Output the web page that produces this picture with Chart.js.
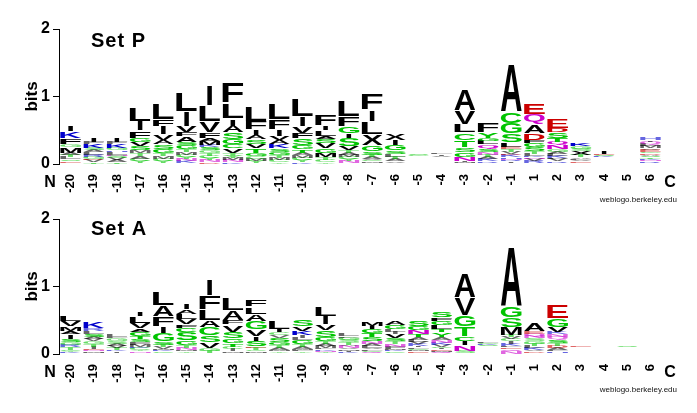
<!DOCTYPE html>
<html>
<head>
<meta charset="utf-8">
<script src="https://cdn.jsdelivr.net/npm/chart.js@4.4.0/dist/chart.umd.min.js"></script>
<style>
  html, body { margin: 0; padding: 0; background: #fff; }
  #wrap { position: relative; width: 697px; height: 413px; }
  .panel { position: absolute; left: 0; width: 697px; }
  #panelP { top: 0; height: 206px; }
  #panelA { top: 206px; height: 207px; }
</style>
</head>
<body>
<div id="wrap">
  <div class="panel" id="panelP"><canvas id="logoP"></canvas></div>
  <div class="panel" id="panelA"><canvas id="logoA"></canvas></div>
</div>
<script>
// sequence positions along the x axis
const positions = ['-20', '-19', '-18', '-17', '-16', '-15', '-14', '-13', '-12', '-11', '-10',
  '-9', '-8', '-7', '-6', '-5', '-4', '-3', '-2', '-1', '1', '2', '3', '4', '5', '6'];
const bitTicks = [0, 1, 2];

// Set P: letters per position, listed top of stack first, with their heights in bits
const setPLetters = ['IKFGMATLSEV', 'IFKSALRGDVT', 'IFKGHLNSVAT', 'LIFGVSMTACYN', 'LFIVASGTMCYK',
  'LIVFASGTMCYNKE', 'ILVFAMKSGTCYND', 'FLIASGCVTYMNK', 'LFIASVTGCMYK', 'LFIVAKSGTMCY',
  'LIVFSGTAMCYK', 'FILASVGMTCY', 'LFGISVTAMCYNK', 'FILXGSTAVCMY', 'XIGSLTAVM',
  'SGATVLEKNDIRQP', 'LIVAGSTEKNDRQP', 'AVLCTSGNIMF', 'FYGLQSNTAKRE', 'ACGSLETVDKHNRIM',
  'EQADFGSTLKNVRP', 'EDSTQNGALKFVRP', 'KGSXTALVEN', 'IESKAGTVLNDRQP', '', 'HIQLMVEGDASTKNRP'];
const setPBits = [
  [.08, .11, .09, .04, .08, .035, .03, .035, .025, .025, .02],
  [.07, .03, .06, .03, .03, .04, .03, .03, .02, .03, .03],
  [.06, .03, .06, .03, .02, .04, .02, .03, .03, .03, .03],
  [.2, .14, .11, .06, .07, .06, .04, .04, .04, .03, .03, .02],
  [.25, .11, .12, .08, .07, .07, .06, .04, .04, .03, .03, .02],
  [.28, .22, .1, .06, .08, .05, .06, .04, .04, .03, .03, .03, .03, .02],
  [.32, .24, .17, .08, .05, .06, .03, .05, .04, .04, .03, .03, .03, .03],
  [.31, .23, .11, .1, .1, .08, .06, .07, .04, .03, .03, .03, .03],
  [.22, .12, .09, .06, .07, .07, .06, .05, .04, .03, .03, .02],
  [.24, .14, .1, .07, .06, .06, .05, .05, .04, .03, .03, .03],
  [.26, .14, .11, .08, .1, .06, .05, .04, .04, .03, .03, .03],
  [.16, .07, .08, .05, .06, .08, .07, .06, .04, .03, .03],
  [.25, .15, .1, .07, .12, .06, .04, .03, .03, .03, .03, .03, .02],
  [.26, .17, .19, .17, .09, .05, .03, .03, .02, .02, .02, .02],
  [.1, .08, .08, .05, .04, .04, .03, .02, .02],
  [.025, .02, .01, .01, .01, .01, .01, .01, .01, .01, .01, .01, .01, .01],
  [.02, .02, .015, .01, .01, .01, .01, .01, .01, .01, .01, .01, .01, .01],
  [.335, .2, .13, .115, .11, .07, .07, .055, .02, .015, .015],
  [.15, .08, .05, .05, .06, .05, .04, .04, .03, .03, .02, .02],
  [.76, .17, .16, .13, .07, .03, .04, .03, .02, .03, .02, .02, .02, .02, .02],
  [.16, .15, .13, .1, .05, .06, .06, .04, .03, .02, .02, .03, .03, .02],
  [.15, .06, .09, .06, .05, .06, .04, .03, .03, .03, .02, .03, .02, .02],
  [.05, .04, .03, .06, .03, .02, .02, .02, .02, .02],
  [.05, .02, .02, .015, .01, .01, .01, .01, .01, .01, .01, .01, .01, .01],
  [],
  [.04, .02, .04, .03, .03, .02, .03, .02, .02, .02, .02, .02, .02, .02, .02, .02]
];

// Set A: same layout
const setALetters = ['LVMAISGRTCYKE', 'KRLSAVGTIENMD', 'LFGSAVTKIE', 'ILVAGTSFMKCYNE', 'LAFIGSTVMKCY',
  'IALVFCSGTNMYK', 'IFLACSVGTM', 'LAFVSGTCIMY', 'FLAGVISETCMK', 'LICVSGTAMYK',
  'SVKILGTAMFYE', 'LIVSGTAMFKNYE', 'LFGSTANVMIKE', 'MIGTSNALVFCQY', 'AGLIVSTNFMKCE',
  'SGNTALVKIFCMED', 'SFGLTYANKVCIEMQ', 'AVGTCINSL', 'LGKSATVEINDRQPFM', 'AGSMTVCIKLEDQN',
  'AEQNSGTLKVDR', 'EGVKNQSTDALHR', 'EADGSTKNRQPV', '', 'SADGETKNRQPV', ''];
const setABits = [
  [.085, .075, .065, .05, .07, .05, .04, .03, .04, .02, .02, .015, .01],
  [.11, .04, .04, .05, .03, .03, .04, .04, .03, .02, .02, .02, .02],
  [.03, .02, .04, .04, .03, .03, .03, .02, .02, .02],
  [.07, .11, .08, .05, .06, .05, .05, .03, .03, .02, .03, .02, .02, .02],
  [.2, .17, .15, .1, .12, .05, .03, .03, .02, .02, .02, .02],
  [.08, .07, .08, .08, .05, .07, .12, .07, .04, .03, .02, .02, .02],
  [.25, .2, .17, .1, .12, .1, .09, .04, .03, .02],
  [.19, .14, .07, .11, .1, .07, .05, .04, .03, .02, .02],
  [.11, .11, .11, .12, .11, .06, .09, .02, .03, .02, .02, .02],
  [.13, .05, .04, .04, .06, .05, .04, .03, .02, .02, .02],
  [.1, .07, .06, .04, .03, .06, .04, .03, .02, .02, .02, .02],
  [.14, .12, .09, .1, .06, .04, .03, .03, .02, .02, .02, .02, .01],
  [.03, .02, .03, .04, .03, .02, .03, .02, .02, .02, .02, .01],
  [.07, .05, .06, .06, .06, .04, .03, .03, .02, .02, .02, .02, .01],
  [.06, .06, .04, .04, .05, .05, .04, .04, .03, .02, .02, .02, .02],
  [.08, .06, .06, .05, .04, .03, .03, .03, .02, .02, .02, .02, .02, .02],
  [.08, .05, .06, .06, .05, .07, .04, .04, .03, .03, .02, .02, .02, .02, .03],
  [.37, .27, .17, .15, .07, .06, .08, .03, .02],
  [.02, .02, .015, .015, .01, .01, .01, .01, .01, .01, .01, .01, .01, .01, .01, .01],
  [.94, .16, .15, .12, .03, .03, .03, .04, .03, .02, .02, .01, .03, .04],
  [.13, .035, .04, .03, .04, .04, .03, .03, .03, .02, .02, .02],
  [.2, .13, .08, .03, .04, .04, .05, .04, .03, .03, .02, .02, .02],
  [.02, .01, .01, .01, .01, .01, .01, .01, .01, .01, .01, .01],
  [],
  [.02, .01, .01, .01, .01, .01, .01, .01, .01, .01, .01, .01],
  []
];

const FONT = "'Liberation Sans', Arial, Helvetica, sans-serif";

function letterColour(ch) {
  if ('GSTYC'.includes(ch)) return '#00c400';
  if ('NQ'.includes(ch)) return '#cc00cc';
  if ('KRH'.includes(ch)) return '#0000cc';
  if ('DE'.includes(ch)) return '#cc0000';
  return '#000000';
}

// stretch one glyph so it fills the box of its bar (I stays a narrow stroke)
function drawGlyph(ctx, ch, x, y, w, h) {
  ctx.save();
  ctx.font = 'bold 100px ' + FONT;
  ctx.textAlign = 'left';
  ctx.textBaseline = 'alphabetic';
  const m = ctx.measureText(ch);
  const gw = m.actualBoundingBoxLeft + m.actualBoundingBoxRight;
  const gh = m.actualBoundingBoxAscent + m.actualBoundingBoxDescent;
  const pad = h > 3 ? h * 0.09 : 0;
  let gx = x, cw = w;
  if (ch === 'I') { cw = w * 0.24; gx = x + (w - cw) / 2; }
  ctx.translate(gx, y + pad);
  ctx.scale(cw / gw, (h - pad) / gh);
  ctx.fillStyle = letterColour(ch);
  if (h < 3) ctx.globalAlpha = 0.6;
  ctx.fillText(ch, m.actualBoundingBoxLeft, m.actualBoundingBoxAscent);
  ctx.restore();
}

const logoLetters = {
  id: 'logoLetters',
  afterDatasetsDraw(chart, args, opts) {
    const ctx = chart.ctx;
    chart.data.datasets.forEach((ds, k) => {
      chart.getDatasetMeta(k).data.forEach((bar, j) => {
        const s = opts.letters[j];
        const i = s.length - 1 - k;
        if (i < 0) return;
        const h = Math.abs(bar.base - bar.y);
        if (h < 1) return;
        drawGlyph(ctx, s[i], bar.x - bar.width / 2, Math.min(bar.y, bar.base), bar.width, h);
      });
    });
  },
  afterDraw(chart, args, opts) {
    const ctx = chart.ctx;
    const a = chart.chartArea;
    ctx.save();
    ctx.fillStyle = '#000';
    ctx.textBaseline = 'alphabetic';
    ctx.textAlign = 'left';
    ctx.font = 'bold 20px ' + FONT;
    ctx.letterSpacing = '1px';
    ctx.fillText(opts.title, a.left + 32, a.top + opts.titleDrop);
    ctx.letterSpacing = '0px';
    ctx.textAlign = 'center';
    ctx.textBaseline = 'middle';
    ctx.font = 'bold 16px ' + FONT;
    ctx.fillText('N', a.left - 9, a.bottom + 19);
    ctx.fillText('C', a.right + 8, a.bottom + 19);
    ctx.textAlign = 'right';
    ctx.font = '8px ' + FONT;
    ctx.fillStyle = '#111';
    ctx.fillText('weblogo.berkeley.edu', a.right + 15, a.bottom + 36);
    ctx.restore();
  }
};

function makeLogo(canvasId, title, letters, bits, padTop, xHeight, titleDrop) {
  const layers = Math.max(...letters.map(s => s.length));
  const datasets = [];
  for (let k = 0; k < layers; k++) {
    datasets.push({
      data: letters.map((s, j) => {
        const i = s.length - 1 - k;
        return i >= 0 ? bits[j][i] : 0;
      }),
      backgroundColor: 'rgba(0,0,0,0)',
      borderWidth: 0,
      barPercentage: 0.9,
      categoryPercentage: 1
    });
  }

  new Chart(document.getElementById(canvasId), {
    type: 'bar',
    data: { labels: positions, datasets: datasets },
    plugins: [logoLetters],
    options: {
      responsive: true,
      maintainAspectRatio: false,
      animation: false,
      layout: { padding: { top: padTop, right: 35, left: 0, bottom: 0 } },
      scales: {
        x: {
          stacked: true,
          grid: { display: false },
          border: { display: false },
          ticks: {
            autoSkip: false, minRotation: 90, maxRotation: 90, padding: 2,
            color: '#000', font: { family: FONT, weight: 'bold', size: 13 }
          },
          afterFit: s => { s.height = xHeight; }
        },
        y: {
          stacked: true,
          min: bitTicks[0],
          max: bitTicks[bitTicks.length - 1],
          afterBuildTicks: s => { s.ticks = bitTicks.map(v => ({ value: v })); },
          grid: { display: true, drawOnChartArea: false, drawTicks: true, tickLength: 6, color: '#000' },
          border: { display: true, color: '#000', width: 1 },
          ticks: { padding: 3, color: '#000', font: { family: FONT, weight: 'bold', size: 16 } },
          title: {
            display: true, text: 'bits', color: '#000',
            font: { family: FONT, weight: 'bold', size: 17 },
            padding: { top: 22, bottom: 0 }
          },
          afterFit: s => { s.width = 59; }
        }
      },
      plugins: {
        legend: { display: false },
        tooltip: { enabled: false },
        logoLetters: { letters: letters, title: title, titleDrop: titleDrop }
      }
    }
  });
}

makeLogo('logoP', 'Set P', setPLetters, setPBits, 29, 42, 18);
makeLogo('logoA', 'Set A', setALetters, setABits, 13, 59, 16);
</script>
</body>
</html>
